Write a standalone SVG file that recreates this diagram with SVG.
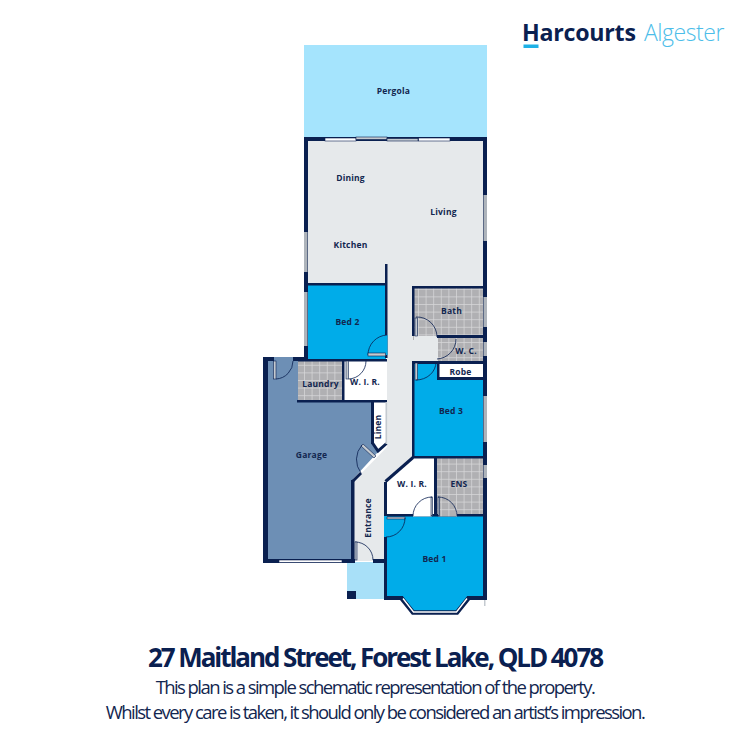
<svg xmlns="http://www.w3.org/2000/svg" width="750" height="750" viewBox="0 0 750 750">
<style>
text{font-family:"Open Sans","Noto Sans","Liberation Sans",sans-serif}
.l{font-size:8.5px;font-weight:700;fill:#12264f;text-anchor:middle;letter-spacing:.2px}
.w{fill:#0a2050}
.wl{stroke:#0a2050;fill:none;stroke-width:3}
.win{fill:#aeb4bb}
.gl{fill:#fff;stroke:#0a2050;stroke-width:.6}
.d{fill:none;stroke:#0a2050;stroke-width:.8}
.leaf{fill:#c4cad0;stroke:#0a2050;stroke-width:.6}
.b{fill:#00ace9}
.t{fill:url(#tile)}
.sub{font-size:18.5px;fill:#12264f;text-anchor:middle;letter-spacing:-1.57px}
</style>
<defs>
<pattern id="tile" width="7.6" height="7.6" patternUnits="userSpaceOnUse">
<rect width="7.6" height="7.6" fill="#b0b0b3"/>
<path d="M0 .4H7.6M.4 0V7.6" stroke="#d6d7d9" stroke-width=".8" fill="none"/>
</pattern>
</defs>
<rect width="750" height="750" fill="#fff"/>

<g id="logo">
<text x="522" y="41" font-size="23.2" font-weight="700" fill="#0a2050" letter-spacing="-.25">Harcourts</text>
<rect x="523.500" y="44.500" width="15" height="3.500" fill="#1eb1e6"/>
<text x="644" y="41" font-size="23" font-weight="300" fill="#4cbde9" letter-spacing="-.45">Algester</text>
</g>

<g id="fills">
<rect x="304" y="45" width="183" height="93" fill="#a5e4fd"/>
<rect x="347" y="562" width="38" height="37" fill="#a8e0f8"/>
<path d="M308 140H484V458H413L387 481V561H354V481L387 447V284H308Z" fill="#e6e9eb"/>
<rect class="b" x="308" y="285" width="78" height="74"/>
<path class="t" d="M413 287H484V336H437V340H413Z"/>
<path class="t" d="M437 336H484V362H437Z"/>
<path d="M414 336H438V362H414Z" fill="#e6e9eb"/>
<path class="b" d="M414 362H438V379H484V458H414Z"/>
<rect x="438" y="364" width="46" height="14" fill="#fff"/>
<path d="M266 359H298V401H372V443L378 452L353 479V561H266Z" fill="#6d8fb5"/>
<rect class="t" x="298" y="361" width="45" height="40"/>
<rect x="343" y="361" width="43" height="40" fill="#fff"/>
<path d="M373 401H386V443L378 451L373 444Z" fill="#fff"/>
<path d="M413 458H436V515H386V482Z" fill="#fff"/>
<rect class="t" x="436" y="458" width="48" height="57"/>
<path class="b" d="M386 515H484V597H468L457 611H413L402 597H386Z"/>
</g>

<g id="walls">
<rect class="w" x="304" y="137" width="183" height="4"/>
<rect class="w" x="304" y="137" width="4" height="221"/>
<rect class="w" x="483" y="137" width="4" height="463"/>
<rect class="w" x="308" y="283" width="78" height="2.500"/>
<rect class="w" x="385" y="264" width="2.500" height="94"/>
<rect class="w" x="412" y="286" width="75" height="2.500"/>
<rect class="w" x="412" y="286" width="2.500" height="50"/>
<rect class="w" x="437" y="335" width="50" height="3"/>
<rect class="w" x="412" y="361" width="75" height="3"/>
<rect class="w" x="412" y="361" width="2.500" height="97"/>
<rect class="w" x="437" y="361" width="2.500" height="19"/>
<rect class="w" x="437" y="377" width="50" height="3"/>
<rect class="w" x="412" y="456" width="75" height="2.500"/>
<rect class="w" x="434" y="458" width="3" height="58"/>
<rect class="w" x="386" y="514" width="101" height="2.500"/>
<rect class="w" x="384" y="482" width="3" height="118"/>
<rect class="w" x="384" y="596" width="19" height="4"/>
<rect class="w" x="467" y="596" width="20" height="4"/>
<path class="wl" d="M385.500 481.500L413 457.500"/>
<path d="M401 597.500L413 612.500H457L469 597.500" fill="none" stroke="#0a2050" stroke-width="4.500"/>
<rect class="w" x="263" y="357" width="5" height="206"/>
<rect class="w" x="263" y="357" width="11" height="4"/>
<rect class="w" x="293" y="357" width="15" height="4"/>
<rect class="w" x="298" y="359" width="89" height="2.500"/>
<rect class="w" x="297" y="400" width="90" height="2.500"/>
<rect class="w" x="342" y="359" width="2.500" height="43"/>
<rect class="w" x="371" y="400" width="3" height="44"/>
<path class="wl" d="M372.500 443L378 451L386.500 443.500"/>
<path class="wl" d="M353 481L361 473"/>
<rect class="w" x="351" y="480" width="3.500" height="83"/>
<rect class="w" x="263" y="559" width="92" height="4"/>
<rect class="w" x="373" y="559" width="14" height="4"/>
<rect class="w" x="347" y="591" width="9" height="8"/>
</g>

<g id="windows">
<rect class="gl" x="325" y="138" width="31" height="3"/>
<rect class="leaf" x="356" y="137" width="31" height="2.500"/>
<rect class="leaf" x="387" y="138.500" width="31" height="2.500"/>
<rect class="gl" x="418.500" y="138" width="31.500" height="3"/>
<rect class="win" x="483.500" y="195" width="3.500" height="46"/>
<rect class="win" x="304" y="232" width="3.500" height="40"/>
<rect class="win" x="304" y="292" width="3.500" height="54"/>
<rect class="win" x="483.500" y="297" width="3.500" height="30"/>
<rect class="win" x="483.500" y="342" width="3.500" height="14"/>
<rect class="win" x="483.500" y="396" width="3.500" height="46"/>
<rect class="win" x="483.500" y="465" width="3.500" height="13"/>
<rect class="gl" x="279" y="560" width="63" height="2.500"/>
<path d="M403 598.500L413.500 612H456.500L467 598.500" fill="none" stroke="#fff" stroke-width="1.400"/>
<rect x="484" y="600" width="1.500" height="6" fill="#c4cad0"/>
<rect x="385.500" y="402" width="1.600" height="42" fill="#c4cad0"/>
</g>

<g id="doors">
<rect class="b" x="385" y="335" width="2.500" height="20"/>
<rect x="274" y="357" width="19" height="4" fill="#6d8fb5"/>
<rect class="leaf" x="273.500" y="361" width="2.500" height="18"/>
<path class="d" d="M276 379A18 18 0 0 0 293 361"/>
<path class="d" d="M368 355A20 20 0 0 1 387 335"/>
<rect class="leaf" x="368" y="353" width="17.500" height="3"/>
<rect class="leaf" x="346" y="361" width="2.500" height="18"/>
<path class="d" d="M348.500 379A18 18 0 0 0 366 361"/>
<rect class="leaf" x="415" y="318" width="2.500" height="18"/>
<path class="d" d="M416 317A20 20 0 0 1 437 337"/>
<path class="d" d="M437 359A20 20 0 0 0 456 339"/>
<rect class="leaf" x="415" y="363" width="2.500" height="17"/>
<path class="d" d="M416 380A20 18 0 0 0 436 362"/>
<path class="leaf" d="M361 446L374 458L376 456L363 444Z"/>
<path class="d" d="M362 445A22 22 0 0 0 361 473"/>
<path class="d" d="M355 542A18 18 0 0 1 373 560"/>
<rect class="leaf" x="355" y="542" width="2" height="18"/>
<rect class="b" x="384" y="516" width="3" height="21"/>
<rect class="leaf" x="387" y="517" width="18" height="2"/>
<path class="d" d="M405 518A19 19 0 0 1 386 537"/>
<rect x="413" y="514" width="19" height="2.500" fill="#fff"/>
<path class="d" d="M413 516A19 19 0 0 1 432 497"/>
<rect class="leaf" x="431" y="497" width="1.500" height="19"/>
<rect x="438" y="514" width="19" height="2.500" fill="url(#tile)"/>
<path class="d" d="M438 497A19 19 0 0 1 457 516"/>
<rect class="leaf" x="438" y="497" width="1.500" height="19"/>
</g>

<g id="labels">
<text class="l" x="393.500" y="94">Pergola</text>
<text class="l" x="350.500" y="181">Dining</text>
<text class="l" x="443.500" y="215">Living</text>
<text class="l" x="350.500" y="248">Kitchen</text>
<text class="l" x="347.500" y="325">Bed 2</text>
<text class="l" x="451.500" y="314">Bath</text>
<text class="l" x="466" y="353.500">W. C.</text>
<text class="l" x="460.500" y="375">Robe</text>
<text class="l" x="320.500" y="387">Laundry</text>
<text class="l" x="365" y="385">W. I. R.</text>
<text class="l" x="451" y="414">Bed 3</text>
<text class="l" x="311.500" y="458">Garage</text>
<text class="l" x="412" y="487">W. I. R.</text>
<text class="l" x="459" y="487">ENS</text>
<text class="l" x="434.500" y="562">Bed 1</text>
<text class="l" transform="translate(381 427) rotate(-90)">Linen</text>
<text class="l" transform="translate(371 518) rotate(-90)">Entrance</text>
</g>

<g id="caption">
<text x="375" y="666.500" font-size="26" font-weight="700" fill="#0a2050" text-anchor="middle" letter-spacing="-2.07">27 Maitland Street, Forest Lake, QLD 4078</text>
<text class="sub" x="375" y="693.500">This plan is a simple schematic representation of the property.</text>
<text class="sub" x="375" y="719">Whilst every care is taken, it should only be considered an artist’s impression.</text>
</g>
</svg>
